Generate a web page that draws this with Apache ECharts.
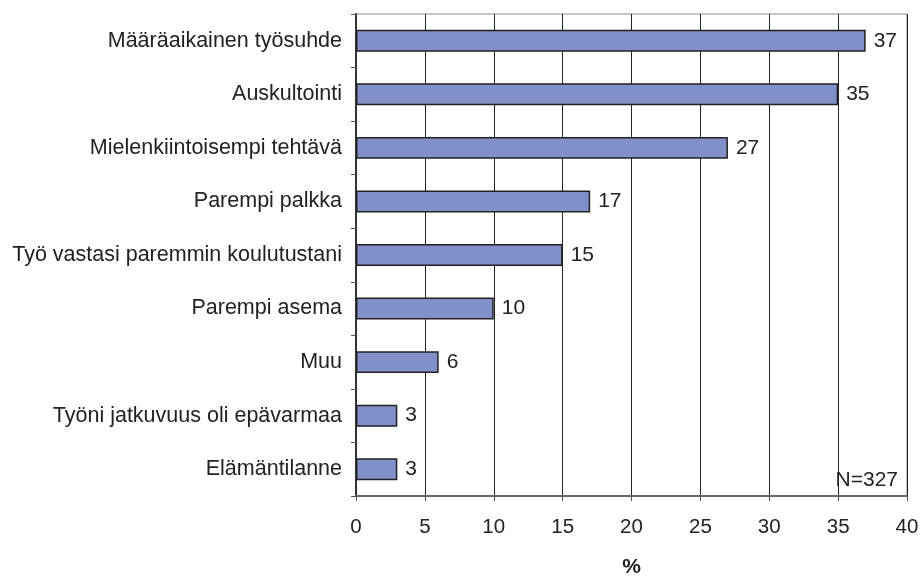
<!DOCTYPE html>
<html>
<head>
<meta charset="utf-8">
<script src="https://cdn.jsdelivr.net/npm/echarts@6/dist/echarts.min.js"></script>
<style>
html,body{margin:0;padding:0;background:#fff;}
#chart{width:922px;height:583px;}
</style>
</head>
<body>
<div id="chart"></div>
<script>
const categories = [
  "Määräaikainen työsuhde",
  "Auskultointi",
  "Mielenkiintoisempi tehtävä",
  "Parempi palkka",
  "Työ vastasi paremmin koulutustani",
  "Parempi asema",
  "Muu",
  "Työni jatkuvuus oli epävarmaa",
  "Elämäntilanne"
];
const values = [37, 35, 27, 17, 15, 10, 6, 3, 3];
const xTicks = [0, 5, 10, 15, 20, 25, 30, 35, 40];
const axisTitle = "%";
const noteText = "N=327";

const font = "Liberation Sans, Arial, sans-serif";
const chart = echarts.init(document.getElementById('chart'));
chart.setOption({
  animation: false,
  backgroundColor: '#fff',
  grid: {
    left: 356, right: 15, top: 14, bottom: 77,
    show: true, borderColor: '#8a8a8a', borderWidth: 1
  },
  xAxis: {
    type: 'value',
    min: xTicks[0], max: xTicks[xTicks.length - 1], interval: 5,
    axisLine: { show: true, lineStyle: { color: '#666', width: 2 } },
    axisTick: { show: true, length: 5, lineStyle: { color: '#555' } },
    axisLabel: { fontFamily: font, fontSize: 20.5, color: '#222', margin: 21 },
    splitLine: { show: true, lineStyle: { color: '#222', width: 1 } },
    name: axisTitle,
    nameLocation: 'middle',
    nameGap: 61,
    nameTextStyle: { fontFamily: font, fontSize: 21, fontWeight: 'bold', color: '#222' }
  },
  yAxis: {
    type: 'category',
    data: categories,
    inverse: true,
    axisLine: { show: true, lineStyle: { color: '#333', width: 2 } },
    axisTick: { show: true, length: 5, lineStyle: { color: '#555' } },
    axisLabel: { fontFamily: font, fontSize: 21.5, color: '#222', margin: 14 },
    splitLine: { show: false }
  },
  series: [{
    type: 'bar',
    data: values,
    barWidth: '41%',
    itemStyle: { color: '#8190c8', borderColor: '#222', borderWidth: 1.5 },
    label: {
      show: true, position: 'right', distance: 8,
      fontFamily: font, fontSize: 21, color: '#222'
    }
  }],
  graphic: [{
    type: 'text',
    right: 24, top: 470,
    style: { text: noteText, fontFamily: font, fontSize: 21, fill: '#222' }
  }]
});
</script>
</body>
</html>
